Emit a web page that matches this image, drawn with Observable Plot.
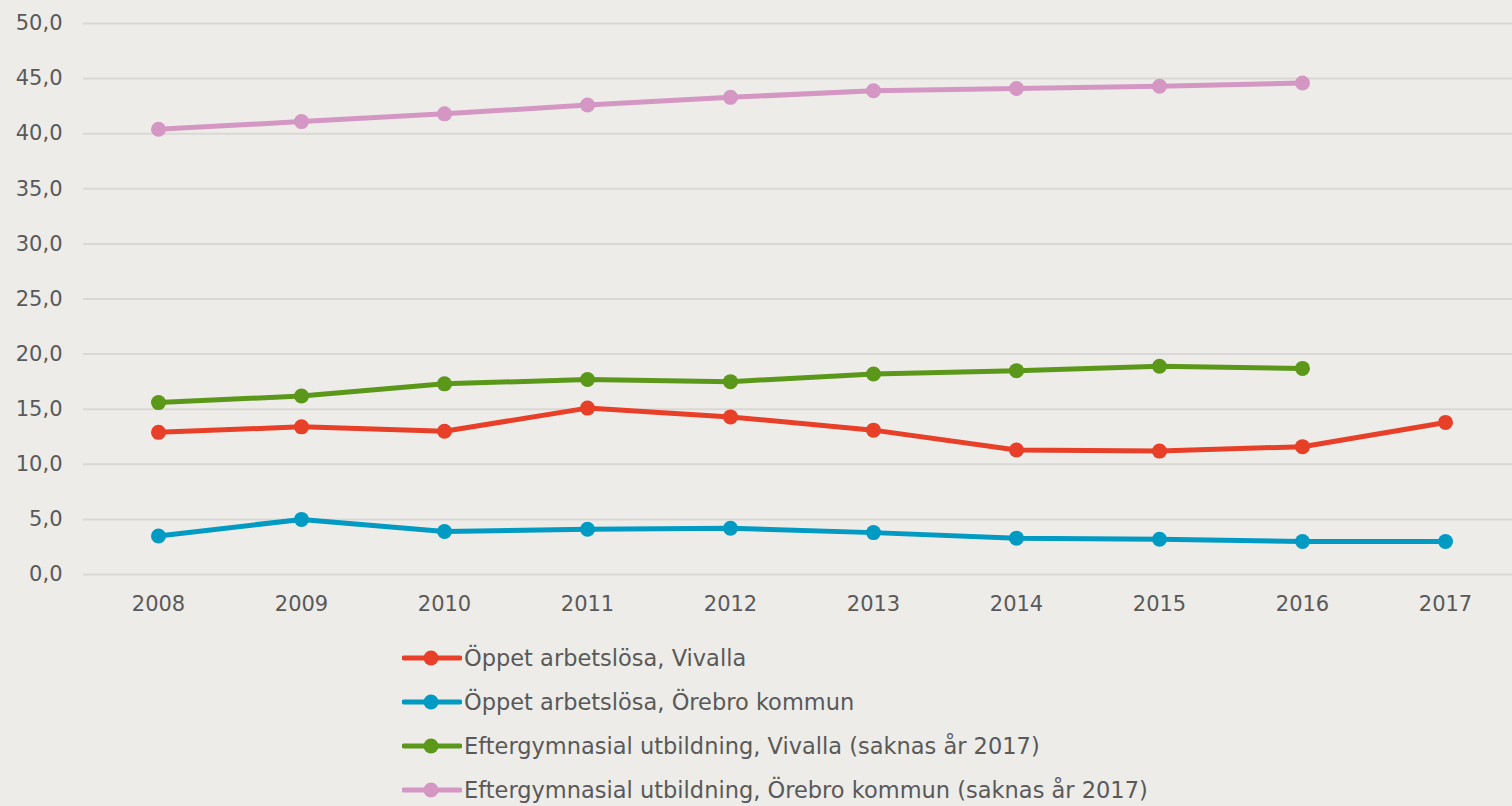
<!DOCTYPE html>
<html>
<head>
<meta charset="utf-8">
<script src="https://cdn.jsdelivr.net/npm/d3@7"></script>
<script src="https://cdn.jsdelivr.net/npm/@observablehq/plot@0.6"></script>
<style>
  html, body { margin: 0; padding: 0; background: #EDECE8; }
  body { width: 1512px; height: 806px; overflow: hidden; font-family: "DejaVu Sans", sans-serif; color: #595959; }
  #legend { margin-left: 402px; padding-top: 16px; }
  .item { display: flex; align-items: center; height: 44px; font-size: 22.5px; }
  .item svg { margin-right: 2px; }
</style>
</head>
<body>
<div id="chart"></div>
<div id="legend"></div>
<script>
const years = [2008, 2009, 2010, 2011, 2012, 2013, 2014, 2015, 2016, 2017];
const seriesNames = [
  "Öppet arbetslösa, Vivalla",
  "Öppet arbetslösa, Örebro kommun",
  "Eftergymnasial utbildning, Vivalla (saknas år 2017)",
  "Eftergymnasial utbildning, Örebro kommun (saknas år 2017)"
];
const colors = ["#E73F28", "#009AC2", "#5B981A", "#D497C3"];
const vivallaUnemployed = [12.9, 13.4, 13.0, 15.1, 14.3, 13.1, 11.3, 11.2, 11.6, 13.8];
const orebroUnemployed = [3.5, 5.0, 3.9, 4.1, 4.2, 3.8, 3.3, 3.2, 3.0, 3.0];
const vivallaEducation = [15.6, 16.2, 17.3, 17.7, 17.5, 18.2, 18.5, 18.9, 18.7, null];
const orebroEducation = [40.4, 41.1, 41.8, 42.6, 43.3, 43.9, 44.1, 44.3, 44.6, null];
const yTicks = [0, 5, 10, 15, 20, 25, 30, 35, 40, 45, 50];

const allSeries = [vivallaUnemployed, orebroUnemployed, vivallaEducation, orebroEducation];
const data = [];
allSeries.forEach((vals, i) => {
  vals.forEach((v, j) => {
    if (v != null) data.push({series: seriesNames[i], year: years[j], value: v});
  });
});

const fmt = d => d.toFixed(1).replace(".", ",");

const chart = Plot.plot({
  width: 1512,
  height: 620,
  marginLeft: 83,
  marginRight: 0,
  marginTop: 23,
  marginBottom: 46,
  style: { background: "#EDECE8", fontFamily: "'DejaVu Sans', sans-serif", fontSize: "21px", color: "#595959" },
  x: { type: "point", domain: years, range: [155, 1447], padding: 0, label: null, tickSize: 0, tickPadding: 22, tickFormat: d => String(d) },
  y: { domain: [0, 50], label: null, ticks: yTicks, tickSize: 0, tickPadding: 21, tickFormat: fmt },
  color: { domain: seriesNames, range: colors },
  marks: [
    Plot.ruleY(yTicks, { stroke: "#D9D8D6", strokeWidth: 2 }),
    Plot.line(data, { x: "year", y: "value", z: "series", stroke: "series", strokeWidth: 5 }),
    Plot.dot(data, { x: "year", y: "value", fill: "series", r: 7.5 })
  ]
});
document.getElementById("chart").appendChild(chart);

const legend = document.getElementById("legend");
seriesNames.forEach((name, i) => {
  const item = document.createElement("div");
  item.className = "item";
  item.innerHTML = `<svg width="60" height="20"><line x1="2" x2="58" y1="10" y2="10" stroke="${colors[i]}" stroke-width="5" stroke-linecap="round"/><circle cx="29" cy="10" r="7.5" fill="${colors[i]}"/></svg><span>${name}</span>`;
  legend.appendChild(item);
});
</script>
</body>
</html>
